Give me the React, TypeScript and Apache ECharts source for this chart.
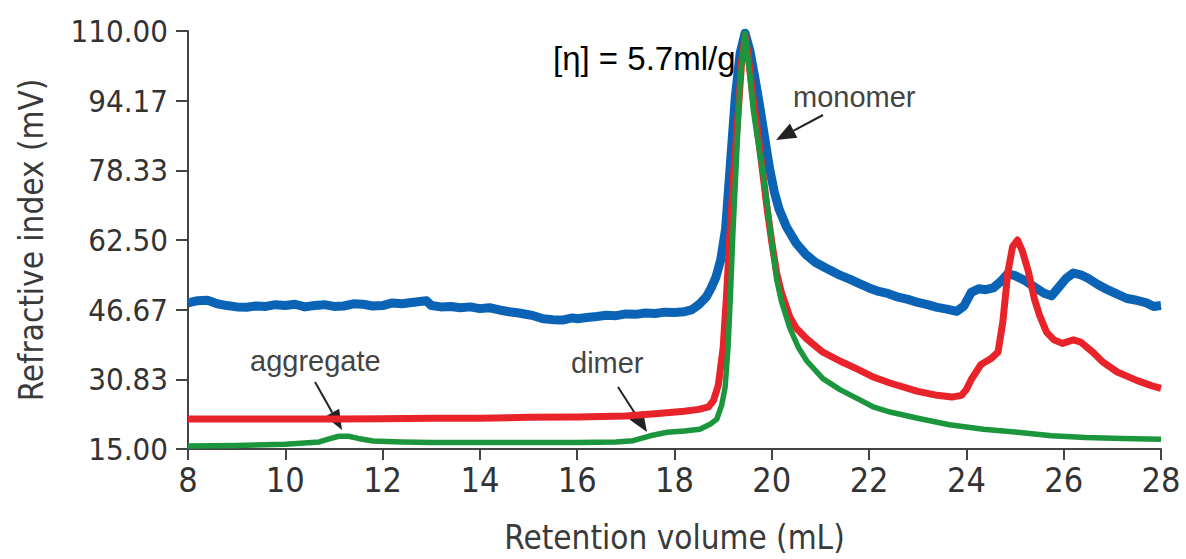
import React, { useEffect, useRef } from "react";
import * as echarts from "echarts";

const xTicks = [8, 10, 12, 14, 16, 18, 20, 22, 24, 26, 28];
const yTickLabels = ["15.00", "30.83", "46.67", "62.50", "78.33", "94.17", "110.00"];

const blueData: [number, number][] = [
  [8, 48.2], [8.2, 48.7], [8.4, 48.8], [8.6, 48.0], [8.8, 47.6], [9.0, 47.3], [9.2, 47.2], [9.4, 47.5], [9.6, 47.4],
  [9.8, 47.8], [10, 47.6], [10.2, 47.9], [10.4, 47.3], [10.6, 47.6], [10.8, 47.8], [11.0, 47.4], [11.2, 47.5],
  [11.4, 48.0], [11.6, 47.9], [11.8, 47.5], [12, 47.6], [12.2, 48.2], [12.4, 48.0], [12.6, 48.3], [12.9, 48.7],
  [13.0, 47.6], [13.2, 47.3], [13.4, 47.4], [13.6, 47.1], [13.8, 47.3], [14, 46.9], [14.2, 47.1], [14.4, 46.6],
  [14.6, 46.2], [14.8, 45.9], [15.0, 45.5], [15.1, 45.3], [15.3, 44.6], [15.5, 44.4], [15.7, 44.3], [15.9, 44.8],
  [16.0, 44.6], [16.2, 44.9], [16.4, 45.1], [16.6, 45.4], [16.8, 45.3], [17.0, 45.7], [17.2, 45.6], [17.4, 45.9],
  [17.6, 45.8], [17.8, 46.1], [18.0, 46.0], [18.2, 46.2], [18.35, 46.6], [18.5, 47.8], [18.65, 49.5], [18.75, 51.5],
  [18.85, 54], [18.95, 58], [19.05, 65], [19.15, 80], [19.25, 95], [19.35, 105], [19.45, 109.5], [19.55, 105.5],
  [19.65, 99.5], [19.75, 93], [19.85, 86], [19.95, 79], [20.05, 73.5], [20.15, 69.5], [20.3, 65.5], [20.5, 61.8],
  [20.7, 59.2], [20.9, 57.4], [21.1, 56.2], [21.4, 54.5], [21.6, 53.6], [21.8, 52.6], [22.0, 51.6], [22.2, 50.8],
  [22.4, 50.3], [22.6, 49.5], [22.8, 49.0], [23.0, 48.3], [23.2, 47.8], [23.4, 47.2], [23.6, 46.8], [23.8, 46.3],
  [23.95, 47.5], [24.1, 50.6], [24.25, 51.4], [24.4, 51.2], [24.55, 51.6], [24.7, 53.0], [24.85, 54.8], [25.0, 54.4],
  [25.2, 53.3], [25.4, 51.8], [25.6, 50.4], [25.75, 49.8], [25.9, 51.8], [26.05, 53.8], [26.2, 55.0], [26.35, 54.6],
  [26.5, 53.8], [26.7, 52.4], [26.9, 51.2], [27.1, 50.2], [27.3, 49.2], [27.5, 48.8], [27.7, 48.2], [27.85, 47.4], [28, 47.6],
];

const redData: [number, number][] = [
  [8, 21.8], [9, 21.8], [10, 21.8], [11, 21.8], [12, 21.9], [13, 22.0], [14, 22.0], [15, 22.2], [16, 22.3],
  [17, 22.5], [17.6, 23.0], [18.2, 23.6], [18.5, 24.0], [18.7, 24.6], [18.8, 26], [18.9, 29.5], [19.0, 38],
  [19.07, 50], [19.14, 64], [19.22, 78], [19.3, 90], [19.38, 103], [19.45, 109], [19.52, 104], [19.6, 96],
  [19.7, 88], [19.8, 79], [19.9, 70], [20.0, 62], [20.1, 55], [20.2, 50.5], [20.37, 45], [20.5, 42.5],
  [20.72, 40], [21.05, 37], [21.4, 35], [21.75, 33.2], [22.1, 31.3], [22.43, 30], [23.0, 28.1], [23.4, 27.2],
  [23.7, 26.8], [23.9, 27.2], [24.0, 28.5], [24.1, 30.8], [24.3, 34.2], [24.5, 35.5], [24.65, 37], [24.75, 44],
  [24.85, 55], [24.95, 61], [25.05, 62.5], [25.15, 60], [25.27, 55.5], [25.4, 49], [25.5, 45.5], [25.65, 41.5],
  [25.8, 39.8], [25.97, 39], [26.2, 39.8], [26.35, 39.3], [26.6, 37], [26.8, 34.8], [27.1, 32.5], [27.5, 30.6],
  [27.8, 29.4], [28, 28.8],
];

const greenData: [number, number][] = [
  [8, 15.7], [9, 15.8], [10, 16.1], [10.7, 16.6], [10.9, 17.3], [11.1, 17.9], [11.3, 17.9], [11.5, 17.4],
  [11.8, 16.8], [12.4, 16.6], [13, 16.5], [14, 16.5], [15, 16.5], [16, 16.5], [16.8, 16.6], [17.15, 16.9],
  [17.5, 18], [17.85, 18.8], [18.2, 19.1], [18.52, 19.5], [18.73, 20.6], [18.87, 21.8], [18.97, 25], [19.04, 29],
  [19.1, 38], [19.15, 50], [19.2, 64], [19.27, 80], [19.35, 99], [19.45, 109.5], [19.55, 100], [19.62, 92],
  [19.7, 86], [19.8, 79], [19.9, 71], [20.0, 62], [20.1, 53.5], [20.2, 48.5], [20.37, 42.5], [20.55, 38],
  [20.72, 35], [21.05, 31], [21.4, 28.5], [21.75, 26.5], [22.1, 24.5], [22.43, 23.4], [23, 22], [23.65, 20.5],
  [24.35, 19.5], [25.05, 18.8], [25.75, 18], [26.45, 17.6], [27.2, 17.4], [28, 17.2],
];

const NARROW = "'DejaVu Sans Condensed', 'Roboto', sans-serif";
const SANS = "'Liberation Sans', Arial, sans-serif";

function arrow(x1: number, y1: number, x2: number, y2: number) {
  const dx = x2 - x1;
  const dy = y2 - y1;
  const len = Math.sqrt(dx * dx + dy * dy);
  const ux = dx / len;
  const uy = dy / len;
  const hl = 20;
  const hw = 8;
  const bx = x2 - ux * hl;
  const by = y2 - uy * hl;
  return [
    {
      type: "line",
      shape: { x1, y1, x2: bx, y2: by },
      style: { stroke: "#222", lineWidth: 2 },
    },
    {
      type: "polygon",
      shape: {
        points: [
          [x2, y2],
          [bx - uy * hw, by + ux * hw],
          [bx + uy * hw, by - ux * hw],
        ],
      },
      style: { fill: "#222" },
    },
  ];
}

export default function App() {
  const ref = useRef<HTMLDivElement>(null);
  useEffect(() => {
    if (!ref.current) return;
    const chart = echarts.init(ref.current, undefined, { renderer: "svg" });
    const yInterval = 95 / 6;
    chart.setOption({
      animation: false,
      backgroundColor: "#ffffff",
      grid: { left: 188, right: 25, top: 31, bottom: 109, containLabel: false },
      xAxis: {
        type: "value",
        min: 8,
        max: 28,
        interval: 2,
        name: "Retention volume (mL)",
        nameLocation: "middle",
        nameGap: 72,
        nameTextStyle: { fontFamily: NARROW, fontSize: 33, color: "#3a3a3a" },
        axisLine: { show: true, lineStyle: { color: "#444", width: 2 } },
        axisTick: { show: true, length: 11, lineStyle: { color: "#444", width: 2 } },
        axisLabel: {
          fontFamily: NARROW,
          fontSize: 34,
          color: "#333",
          margin: 14,
          formatter: (v: number) => (xTicks.includes(v) ? String(v) : ""),
        },
        splitLine: { show: false },
      },
      yAxis: {
        type: "value",
        min: 15,
        max: 110,
        interval: yInterval,
        name: "Refractive index (mV)",
        nameLocation: "middle",
        nameGap: 140,
        nameTextStyle: { fontFamily: NARROW, fontSize: 33, color: "#3a3a3a" },
        axisLine: { show: true, lineStyle: { color: "#444", width: 2 } },
        axisTick: { show: true, length: 12, lineStyle: { color: "#444", width: 2 } },
        axisLabel: {
          fontFamily: NARROW,
          fontSize: 31,
          color: "#333",
          margin: 20,
          formatter: (v: number) => {
            const i = Math.round((v - 15) / yInterval);
            return yTickLabels[i] ?? "";
          },
        },
        splitLine: { show: false },
      },
      series: [
        {
          type: "line",
          name: "blue",
          data: blueData,
          showSymbol: false,
          lineStyle: { color: "#0b63b6", width: 9, join: "round" },
          z: 1,
        },
        {
          type: "line",
          name: "red",
          data: redData,
          showSymbol: false,
          lineStyle: { color: "#e8242a", width: 7, join: "round" },
          z: 2,
        },
        {
          type: "line",
          name: "green",
          data: greenData,
          showSymbol: false,
          lineStyle: { color: "#1c963c", width: 5.5, join: "round" },
          z: 3,
        },
      ],
      graphic: [
        {
          type: "text",
          left: 553,
          top: 42,
          z: 100,
          style: { text: "[η] = 5.7ml/g", fontFamily: SANS, fontSize: 33, fill: "#000" },
        },
        {
          type: "text",
          left: 793,
          top: 82,
          style: { text: "monomer", fontFamily: SANS, fontSize: 29, fill: "#444" },
        },
        {
          type: "text",
          left: 250,
          top: 346,
          style: { text: "aggregate", fontFamily: SANS, fontSize: 29, fill: "#444" },
        },
        {
          type: "text",
          left: 571,
          top: 348,
          style: { text: "dimer", fontFamily: SANS, fontSize: 29, fill: "#444" },
        },
        ...arrow(823, 115, 776, 140),
        ...arrow(315, 382, 342, 430),
        ...arrow(618, 387, 647, 432),
      ],
    });
    return () => chart.dispose();
  }, []);
  return <div ref={ref} style={{ width: 1186, height: 559, position: "absolute", left: 0, top: 0 }} />;
}
